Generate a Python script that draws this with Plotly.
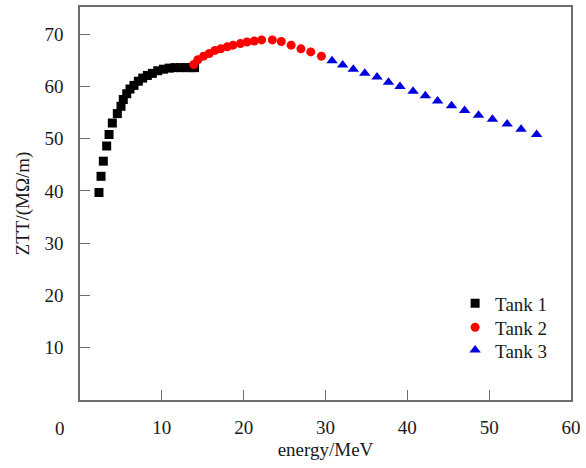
import plotly.graph_objects as go

# Tank 1 (squares)
tank1_energy = [2.32, 2.57, 2.85, 3.26, 3.55, 3.95, 4.56, 5.01, 5.29, 5.71, 6.11, 6.60,
                7.13, 7.66, 8.23, 8.84, 9.50, 10.2, 10.9, 11.6, 12.3, 13.0, 13.6, 14.0]
tank1_ztt = [39.7, 42.8, 45.7, 48.6, 50.8, 53.0, 54.8, 56.2, 57.5, 58.6, 59.5, 60.2,
             61.0, 61.6, 62.1, 62.5, 63.0, 63.3, 63.5, 63.6, 63.6, 63.6, 63.6, 63.6]

# Tank 2 (circles)
tank2_energy = [13.9, 14.4, 15.1, 15.8, 16.5, 17.2, 18.0, 18.7, 19.6, 20.4, 21.3, 22.2,
                23.5, 24.6, 25.8, 27.0, 28.2, 29.5]
tank2_ztt = [64.2, 65.1, 65.8, 66.3, 66.9, 67.2, 67.6, 67.9, 68.2, 68.5, 68.7, 68.9,
             68.9, 68.6, 67.9, 67.2, 66.6, 65.8]

# Tank 3 (triangles)
tank3_energy = [30.8, 32.1, 33.4, 34.8, 36.3, 37.7, 39.1, 40.7, 42.2, 43.7, 45.4, 47.0,
                48.7, 50.4, 52.2, 53.9, 55.8]
tank3_ztt = [64.9, 64.1, 63.3, 62.5, 61.8, 60.8, 60.0, 59.1, 58.2, 57.2, 56.3, 55.4,
             54.5, 53.7, 52.8, 51.8, 50.8]

x_ticks = [10, 20, 30, 40, 50, 60]
y_ticks = [10, 20, 30, 40, 50, 60, 70]

FONT = "Liberation Serif"
FS = 19
AXC = "#6e6e6e"
TXT = "#1a1a1a"

fig = go.Figure()
fig.add_trace(go.Scatter(x=tank1_energy, y=tank1_ztt, mode="markers", name="Tank 1",
                         legend="legend",
                         marker=dict(symbol="square", size=9, color="#000000")))
fig.add_trace(go.Scatter(x=tank2_energy, y=tank2_ztt, mode="markers", name="Tank 2",
                         legend="legend2",
                         marker=dict(symbol="circle", size=9, color="#ff0000")))
fig.add_trace(go.Scatter(x=tank3_energy, y=tank3_ztt, mode="markers", name="Tank 3",
                         legend="legend3",
                         marker=dict(symbol="triangle-up", size=10, color="#0000dd")))

axis_common = dict(showgrid=False, zeroline=False, showline=True, linecolor=AXC,
                   linewidth=1.5, mirror=True, ticks="inside", ticklen=10,
                   tickcolor=AXC, tickwidth=1.2,
                   tickfont=dict(family=FONT, size=FS, color=TXT))

legend_common = dict(x=0.764, xanchor="left", yanchor="middle",
                     bgcolor="rgba(0,0,0,0)",
                     font=dict(family=FONT, size=FS, color=TXT))

fig.update_layout(
    width=586, height=468,
    margin=dict(l=80, r=15, t=5, b=68),
    paper_bgcolor="white", plot_bgcolor="white",
    font=dict(family=FONT, size=FS, color=TXT),
    xaxis=dict(range=[0, 60], tickvals=x_ticks, ticktext=[str(v) for v in x_ticks],
               ticklabelstandoff=9,
               title=dict(text="energy/MeV", font=dict(family=FONT, size=FS, color=TXT), standoff=6),
               **axis_common),
    yaxis=dict(range=[0, 75.2], tickvals=y_ticks, ticktext=[str(v) for v in y_ticks],
               ticklabelstandoff=11,
               title=dict(text="ZTT/(MΩ/m)", font=dict(family=FONT, size=FS, color=TXT), standoff=10),
               **axis_common),
    legend=dict(y=0.2456, **legend_common),
    legend2=dict(y=0.1848, **legend_common),
    legend3=dict(y=0.1266, **legend_common),
    showlegend=True,
)

fig.add_annotation(text="0", xref="paper", yref="paper", x=-0.041, y=-0.072,
                   xanchor="center", yanchor="middle", showarrow=False,
                   font=dict(family=FONT, size=FS, color=TXT))

fig.write_html("out.html")
